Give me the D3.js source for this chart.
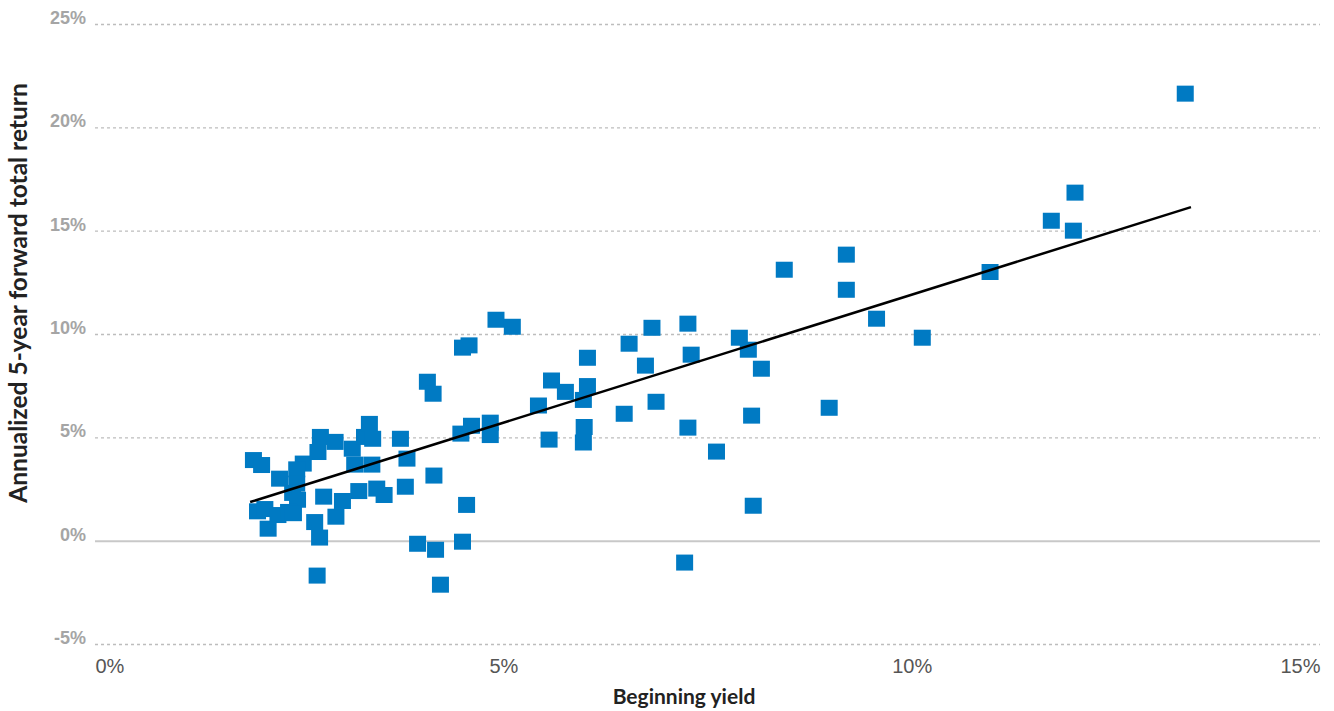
<!DOCTYPE html>
<html lang="en">

<head>
    <meta charset="UTF-8">
    <title>Beginning yield vs 5-year forward return</title>
    <script src="https://d3js.org/d3.v7.min.js"></script>
    <style>
        body { margin: 0; background: #fff; }
        svg { display: block; font-family: "Source Sans Pro", Lato, "Noto Sans", sans-serif; }
    </style>
</head>

<body>
    <div id="chart"></div>

    <script>
        // beginning yield (%) and annualized 5-year forward total return (%)
        const yieldPct = [
            1.94, 2.04, 2.26, 2.55, 2.47, 2.47, 2.42, 2.48, 1.99, 2.08,
            2.12, 2.24, 2.37, 2.43, 2.69, 2.75, 2.72, 2.80, 2.95, 3.03,
            3.23, 3.45, 3.54, 3.80, 2.76, 2.73, 2.94, 3.15, 3.18, 3.39,
            3.30, 3.36, 3.40, 3.74, 3.82, 4.15, 3.95, 4.17, 4.23, 4.50,
            4.55, 4.48, 4.61, 4.84, 4.84, 4.91, 5.11, 4.50, 4.58, 4.07,
            4.14, 5.43, 5.59, 5.76, 6.03, 6.03, 5.98, 5.99, 5.98, 5.56,
            6.48, 6.54, 6.74, 6.82, 6.87, 7.26, 7.30, 7.26, 7.61, 7.22,
            7.89, 8.00, 8.16, 8.04, 8.06, 8.99, 8.44, 9.20, 9.20, 9.57,
            10.13, 10.96, 11.71, 11.98, 12.00, 13.35
        ];
        const fwdReturn = [
            3.90, 3.66, 3.00, 3.73, 3.45, 2.76, 2.31, 1.98, 1.42, 1.53,
            0.58, 1.24, 1.39, 1.33, 0.90, 0.15, -1.69, 2.13, 1.16, 1.92,
            2.40, 2.52, 2.21, 2.61, 5.02, 4.29, 4.78, 4.45, 3.68, 3.68,
            5.02, 5.65, 4.93, 4.93, 3.97, 3.15, -0.15, -0.44, -2.13, -0.05,
            1.73, 5.18, 5.56, 5.71, 5.11, 10.69, 10.35, 9.34, 9.45, 7.69,
            7.11, 6.54, 7.75, 7.20, 8.85, 7.48, 6.81, 5.50, 4.75, 4.89,
            6.14, 9.53, 8.47, 10.30, 6.72, 10.50, 9.00, 5.47, 4.31, -1.06,
            9.82, 9.24, 8.32, 6.05, 1.69, 6.43, 13.11, 13.84, 12.14, 10.74,
            9.82, 13.00, 15.48, 15.00, 16.84, 21.63
        ];

        // linear trend line end points
        const trendX = [1.90, 13.42];
        const trendY = [1.87, 16.14];

        const xTicks = [0, 5, 10, 15];
        const yTicks = [-5, 0, 5, 10, 15, 20, 25];

        const width = 1334;
        const height = 711;
        const plot = { left: 95, right: 1320, top: 24, bottom: 644 };
        const markW = 17;
        const markH = 16;

        const points = yieldPct.map((x, i) => ({ x: x, y: fwdReturn[i] }));
        const trend = trendX.map((x, i) => ({ x: x, y: trendY[i] }));

        const x = d3.scaleLinear().domain([0, 15]).range([plot.left, plot.right]);
        const y = d3.scaleLinear().domain([-5, 25]).range([plot.bottom, plot.top]);

        const svg = d3.select("#chart")
            .append("svg")
            .attr("width", width)
            .attr("height", height);

        // horizontal gridlines (zero line solid)
        const yAxis = svg.append("g")
            .attr("transform", `translate(${plot.left},0)`)
            .call(d3.axisLeft(y)
                .tickValues(yTicks)
                .tickSize(-(plot.right - plot.left))
                .tickPadding(9)
                .tickFormat(d => d + "%"));

        yAxis.select(".domain").remove();
        yAxis.selectAll(".tick line")
            .attr("stroke", d => d === 0 ? "#c8c8c8" : "#bdbdbd")
            .attr("stroke-width", d => d === 0 ? 2 : 1.3)
            .attr("stroke-dasharray", d => d === 0 ? null : "3,3");
        yAxis.selectAll(".tick text")
            .attr("fill", "#a5a5a5")
            .attr("font-size", 18)
            .attr("font-weight", 600)
            .attr("dy", "-0.02em");

        // x axis labels only
        const xAxis = svg.append("g")
            .attr("transform", `translate(0,${plot.bottom})`)
            .call(d3.axisBottom(x)
                .tickValues(xTicks)
                .tickSize(0)
                .tickPadding(15)
                .tickFormat(d => d + "%"));

        xAxis.select(".domain").remove();
        xAxis.selectAll(".tick text")
            .attr("fill", "#555")
            .attr("font-size", 20)
            .attr("font-weight", 300)
            .attr("text-anchor", (d, i) => i === 0 ? "start" : (i === xTicks.length - 1 ? "end" : "middle"));

        // scatter markers
        svg.append("g")
            .selectAll("rect")
            .data(points)
            .join("rect")
            .attr("x", d => x(d.x) - markW / 2)
            .attr("y", d => y(d.y) - markH / 2)
            .attr("width", markW)
            .attr("height", markH)
            .attr("fill", "#007ac3");

        // trend line
        svg.append("path")
            .datum(trend)
            .attr("fill", "none")
            .attr("stroke", "#000")
            .attr("stroke-width", 2.5)
            .attr("d", d3.line().x(d => x(d.x)).y(d => y(d.y)));

        // axis titles
        svg.append("text")
            .attr("x", 684)
            .attr("y", 704)
            .attr("text-anchor", "middle")
            .attr("fill", "#222")
            .attr("font-size", 21)
            .attr("font-weight", 700)
            .text("Beginning yield");

        svg.append("text")
            .attr("transform", "translate(27,293) rotate(-90)")
            .attr("text-anchor", "middle")
            .attr("fill", "#222")
            .attr("font-size", 24.5)
            .attr("font-weight", 700)
            .text("Annualized 5-year forward total return");
    </script>
</body>

</html>
